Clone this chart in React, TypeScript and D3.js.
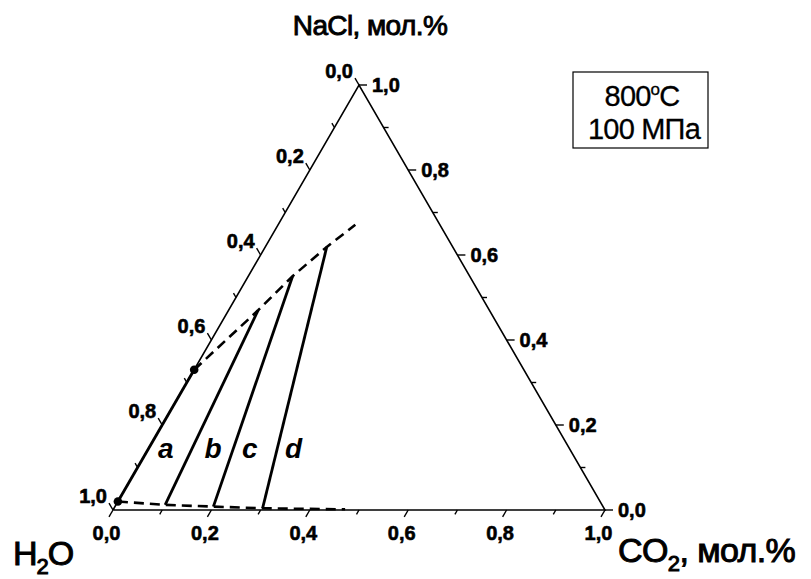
import { useEffect } from "react";
import * as d3 from "d3";

// ternary coords: [CO2, NaCl] (H2O = 1 - CO2 - NaCl)
const tieNames = ["a", "b", "c", "d"];
const tieBottom = [
  [0, 0.02],
  [0.1, 0.012],
  [0.2, 0.008],
  [0.302, 0.004],
];
const tieTop = [
  [0, 0.33],
  [0.06, 0.47],
  [0.09, 0.55],
  [0.125, 0.619],
];
const upperBoundary = [
  [0, 0.33],
  [0.06, 0.47],
  [0.09, 0.55],
  [0.125, 0.619],
  [0.157, 0.671],
];
const lowerBoundary = [
  [0, 0.02],
  [0.1, 0.012],
  [0.2, 0.008],
  [0.302, 0.004],
  [0.471, 0.0016],
];
const dots = [
  [0, 0.33],
  [0, 0.02],
];
const tickValues = d3.range(0, 11).map((i) => i / 10);
const tickLabel = (v: number) => v.toFixed(1).replace(".", ",");

const W = 811;
const H = 579;
const FONT = "'Liberation Sans', Arial, sans-serif";

export default function App() {
  useEffect(() => {
    document.body.style.margin = "0";
  }, []);

  const x = d3.scaleLinear().domain([0, 1]).range([113, 605]);
  const y = d3.scaleLinear().domain([0, 1]).range([510, 85]);
  const pt = (c: number, n: number): [number, number] => [x(c + n / 2), y(n)];

  const line = d3
    .line<number[]>()
    .x((d) => pt(d[0], d[1])[0])
    .y((d) => pt(d[0], d[1])[1]);

  const corners = [
    [0, 0],
    [1, 0],
    [0, 1],
    [0, 0],
  ];

  // label position for a..d: a bit right of each tie line at NaCl = 0.122
  const labelN = 0.122;
  const labelOffsets = [15, 17, 12, 10];
  const labelPos = tieNames.map((_, i) => {
    const [c0, n0] = tieBottom[i];
    const [c1, n1] = tieTop[i];
    const t = (labelN - n0) / (n1 - n0);
    const c = c0 + (c1 - c0) * t;
    const [px, py] = pt(c, labelN);
    return [px + labelOffsets[i], py];
  });

  const tickText = { fontSize: 20, fontWeight: "bold", stroke: "#000", strokeWidth: 0.6 } as const;

  return (
    <svg width={W} height={H} style={{ display: "block", background: "#fff" }} fontFamily={FONT}>
      {/* triangle */}
      <path d={line(corners) || ""} fill="none" stroke="#000" strokeWidth={1.6} />

      {/* bottom axis: CO2 */}
      {tickValues.map((v, i) => {
        const [px, py] = pt(v, 0);
        const len = i % 2 === 0 ? 8 : 5;
        return (
          <g key={"b" + i}>
            <line x1={px} y1={py} x2={px - 0.5 * len} y2={py + 0.866 * len} stroke="#000" strokeWidth={1.4} />
            {i % 2 === 0 && (
              <text x={px - 6.5} y={py + 30} textAnchor="middle" {...tickText}>
                {tickLabel(v)}
              </text>
            )}
          </g>
        );
      })}

      {/* left axis: H2O */}
      {tickValues.map((v, i) => {
        const [px, py] = pt(0, 1 - v);
        const len = i % 2 === 0 ? 8 : 5;
        return (
          <g key={"l" + i}>
            <line x1={px} y1={py} x2={px - 0.5 * len} y2={py - 0.866 * len} stroke="#000" strokeWidth={1.4} />
            {i % 2 === 0 && (
              <text x={px - 6} y={py - 7} textAnchor="end" {...tickText}>
                {tickLabel(v)}
              </text>
            )}
          </g>
        );
      })}

      {/* right axis: NaCl */}
      {tickValues.map((v, i) => {
        const [px, py] = pt(1 - v, v);
        const len = i % 2 === 0 ? 8 : 5;
        return (
          <g key={"r" + i}>
            <line x1={px} y1={py} x2={px + len} y2={py} stroke="#000" strokeWidth={1.4} />
            {i % 2 === 0 && (
              <text x={px + 13} y={py + 7} textAnchor="start" {...tickText}>
                {tickLabel(v)}
              </text>
            )}
          </g>
        );
      })}

      {/* boundaries */}
      <path d={line(upperBoundary) || ""} fill="none" stroke="#000" strokeWidth={2.6} strokeDasharray="10,6" />
      <path d={line(lowerBoundary) || ""} fill="none" stroke="#000" strokeWidth={2.6} strokeDasharray="10,6" />

      {/* tie lines */}
      {tieNames.map((name, i) => (
        <path
          key={name}
          d={line([tieBottom[i], tieTop[i]]) || ""}
          fill="none"
          stroke="#000"
          strokeWidth={2.8}
        />
      ))}
      {tieNames.map((name, i) => (
        <text
          key={"t" + name}
          x={labelPos[i][0]}
          y={labelPos[i][1]}
          fontSize={28}
          fontWeight="bold"
          fontStyle="italic"
        >
          {name}
        </text>
      ))}

      {dots.map((d, i) => {
        const [px, py] = pt(d[0], d[1]);
        return <circle key={"d" + i} cx={px} cy={py} r={4.3} fill="#000" />;
      })}

      {/* titles */}
      <text x={370} y={35} textAnchor="middle" fontSize={28} letterSpacing={-0.6} stroke="#000" strokeWidth={0.9}>
        NaCl, мол.%
      </text>
      <text x={13} y={565} fontSize={34} letterSpacing={-1} stroke="#000" strokeWidth={1}>
        H<tspan fontSize={22} dy={9}>2</tspan>
        <tspan dy={-9}>O</tspan>
      </text>
      <text x={618} y={562} fontSize={34} letterSpacing={-0.6} stroke="#000" strokeWidth={1}>
        CO<tspan fontSize={22} dy={9}>2</tspan>
        <tspan dy={-9}>, мол.%</tspan>
      </text>

      {/* conditions box */}
      <rect x={573} y={72} width={135} height={76} fill="none" stroke="#000" strokeWidth={1.2} />
      <text x={642} y={106} textAnchor="middle" fontSize={29} letterSpacing={-0.8} stroke="#000" strokeWidth={0.3}>
        800<tspan fontSize={17} dy={-11}>o</tspan>
        <tspan dy={11}>C</tspan>
      </text>
      <text x={644} y={139} textAnchor="middle" fontSize={29} letterSpacing={-0.8} stroke="#000" strokeWidth={0.3}>
        100 МПа
      </text>
    </svg>
  );
}
